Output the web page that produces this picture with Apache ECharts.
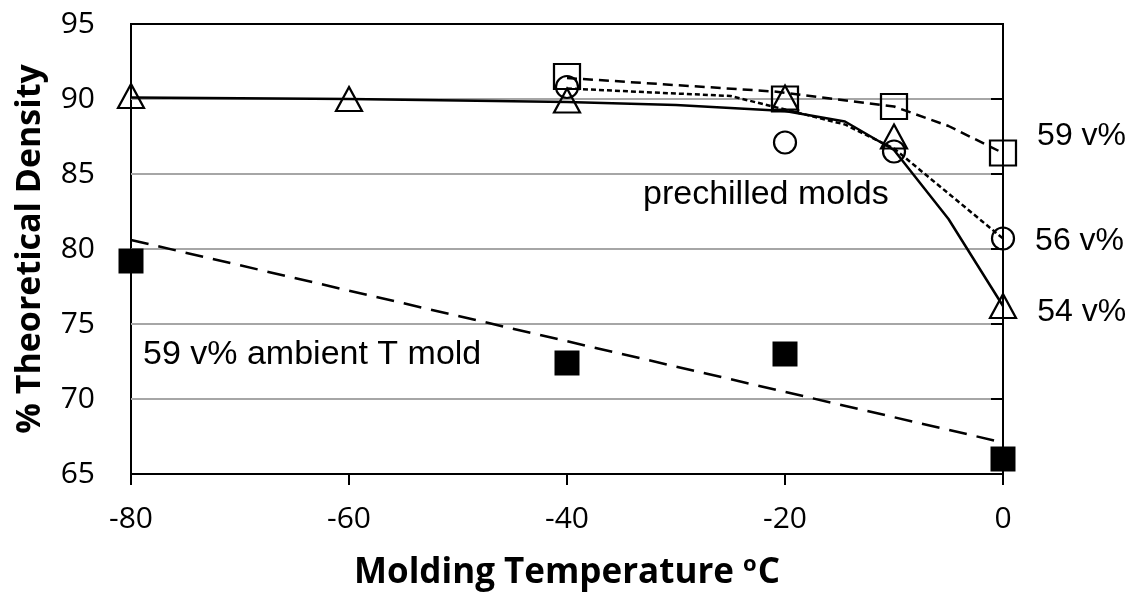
<!DOCTYPE html>
<html>
<head>
<meta charset="utf-8">
<title>Molding temperature vs density</title>
<script src="https://cdn.jsdelivr.net/npm/echarts@6/dist/echarts.min.js"></script>
<style>
  html, body { margin: 0; padding: 0; background: #fff; }
  #chart { width: 1135px; height: 601px; }
</style>
</head>
<body>
<div id="chart"></div>
<script>
// measured points, [temperature, % theoretical density]
var pts54 = [[-80, 90.2], [-60, 90.0], [-40, 89.9], [-20, 90.1], [-10, 87.5], [0, 76.2]];
var pts56 = [[-40, 90.8], [-20, 87.1], [-10, 86.5], [0, 80.7]];
var pts59 = [[-40, 91.5], [-20, 90.0], [-10, 89.5], [0, 86.4]];
var ptsAmbient = [[-80, 79.2], [-40, 72.4], [-20, 73.0], [0, 66.0]];

// trend lines as drawn on the plot
var fit54 = [[-80, 90.1], [-60, 90.0], [-40, 89.8], [-30, 89.6], [-20, 89.2], [-14.5, 88.5], [-10, 86.6], [-5, 82.0], [0, 76.2]];
var fit56 = [[-40, 90.7], [-25, 90.2], [-20, 89.3], [-14.5, 88.3], [-10, 86.7], [-5, 83.7], [0, 80.7]];
var fit59 = [[-40, 91.4], [-21, 90.5], [-10, 89.5], [-5, 88.2], [0, 86.4]];
var fitAmbient = [[-80, 80.6], [0, 67.1]];

var xTicks = { min: -80, max: 0, interval: 20 };
var yTicks = { min: 65, max: 95, interval: 5 };

var labelFont = 'Liberation Sans, Arial, sans-serif';
var axisFont = 'Open Sans, sans-serif';

function fitLine(data, dash) {
    return {
        type: 'line', data: data, symbol: 'none', silent: true, z: 2,
        lineStyle: { color: '#000', width: 2.5, type: dash, opacity: 1 }
    };
}

function marks(data, symbol, size, filled, tag, dy) {
    var last = data.length - 1;
    return {
        type: 'scatter', data: data, symbol: symbol, symbolSize: size, z: 3,
        itemStyle: filled
            ? { color: '#000', borderWidth: 0, opacity: 1 }
            : { color: 'rgba(0,0,0,0)', borderColor: '#000', borderWidth: 2.2, opacity: 1 },
        label: {
            show: !!tag, position: 'right', distance: 20, offset: [0, dy || 0],
            color: '#000', fontFamily: labelFont, fontSize: 32,
            formatter: function (p) { return p.dataIndex === last ? tag : ''; }
        }
    };
}

var chart = echarts.init(document.getElementById('chart'));
chart.setOption({
    animation: false,
    backgroundColor: '#fff',
    grid: { left: 131, right: 132, top: 24, bottom: 127, show: true, borderColor: '#000', borderWidth: 2 },
    xAxis: {
        type: 'value', min: xTicks.min, max: xTicks.max, interval: xTicks.interval,
        name: 'Molding Temperature {sup|o}C', nameLocation: 'middle', nameGap: 80,
        nameTextStyle: {
            color: '#000', fontFamily: axisFont, fontWeight: 'bold', fontSize: 35,
            rich: { sup: { fontFamily: axisFont, fontWeight: 'bold', fontSize: 22, padding: [0, 1, 16, 0], verticalAlign: 'bottom' } }
        },
        axisLine: { lineStyle: { color: '#000', width: 2 } },
        axisTick: { length: 11, lineStyle: { color: '#000', width: 2 } },
        axisLabel: { color: '#000', fontFamily: axisFont, fontSize: 30, margin: 30 },
        splitLine: { show: false }
    },
    yAxis: {
        type: 'value', min: yTicks.min, max: yTicks.max, interval: yTicks.interval,
        name: '% Theoretical Density', nameLocation: 'middle', nameGap: 84,
        nameTextStyle: { color: '#000', fontFamily: axisFont, fontWeight: 'bold', fontSize: 34 },
        axisLine: { lineStyle: { color: '#000', width: 2 } },
        axisTick: { length: 12, lineStyle: { color: '#000', width: 2 } },
        axisLabel: { color: '#000', fontFamily: axisFont, fontSize: 30, margin: 36 },
        splitLine: { show: true, showMinLine: false, showMaxLine: false, lineStyle: { color: '#a6a6a6', width: 2 } }
    },
    graphic: [
        { type: 'text', left: 643, top: 178, style: { text: 'prechilled molds', font: '34px ' + labelFont, fill: '#000' } },
        { type: 'text', left: 143, top: 338, style: { text: '59 v% ambient T mold', font: '34px ' + labelFont, fill: '#000' } }
    ],
    series: [
        fitLine(fitAmbient, [18, 10]),
        fitLine(fit59, [10, 6]),
        fitLine(fit56, [5, 3]),
        fitLine(fit54, 'solid'),
        marks(ptsAmbient, 'rect', [25, 25], true),
        marks(pts59, 'rect', [26, 25], false, '59 v%', -17),
        marks(pts56, 'circle', 22, false, '56 v%', 3),
        marks(pts54, 'triangle', [26, 24], false, '54 v%', 6)
    ]
});
</script>
</body>
</html>
